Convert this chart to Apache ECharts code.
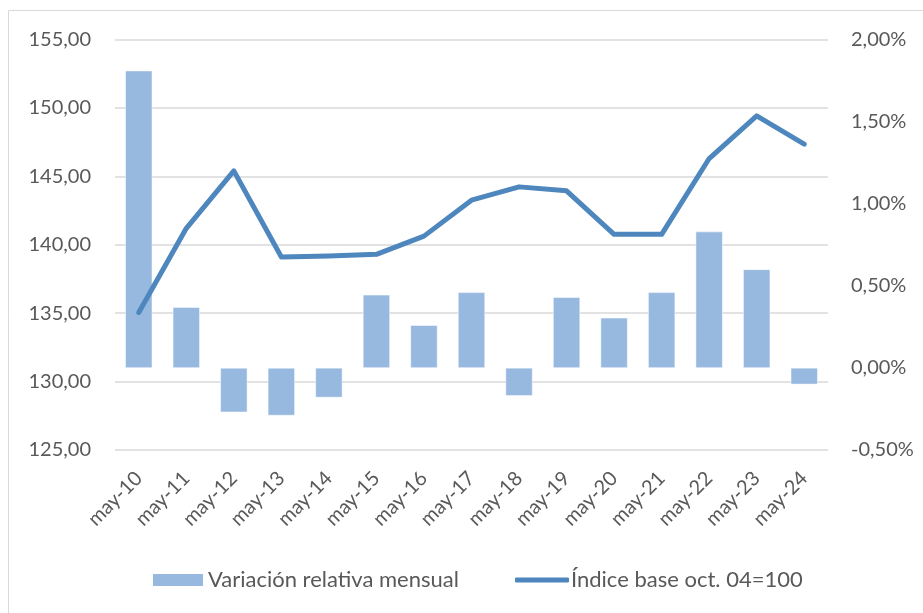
<!DOCTYPE html>
<html>
<head>
<meta charset="utf-8">
<script src="https://cdn.jsdelivr.net/npm/echarts@6/dist/echarts.min.js"></script>
<style>
html,body{margin:0;padding:0;background:#fff;}
#c{width:923px;height:613px;}
</style>
</head>
<body>
<div id="c"></div>
<script>
const categories = ['may-10','may-11','may-12','may-13','may-14','may-15','may-16','may-17','may-18','may-19','may-20','may-21','may-22','may-23','may-24'];
const variacionMensual = [1.81, 0.37, -0.27, -0.29, -0.18, 0.445, 0.26, 0.46, -0.17, 0.43, 0.305, 0.46, 0.83, 0.60, -0.10];
const indiceBase = [135.05, 141.2, 145.4, 139.1, 139.17, 139.3, 140.63, 143.26, 144.23, 143.94, 140.76, 140.76, 146.3, 149.42, 147.35];
const leftTicks = {min:125, max:155, interval:5};
const rightTicks = {min:-0.5, max:2.0, interval:0.5};
const seriesNames = ['Variación relativa mensual', 'Índice base oct. 04=100'];

const FONT = 'Lato';
const TXT = '#595959';
const legendText = {fontFamily:FONT,fontSize:22,color:TXT};
const chart = echarts.init(document.getElementById('c'), null, {renderer:'canvas'});
chart.setOption({
  animation:false,
  backgroundColor:'#ffffff',
  textStyle:{fontFamily:FONT},
  graphic:[{
    type:'rect', shape:{x:8.5,y:10.5,width:930,height:620},
    style:{fill:'none',stroke:'#d9d9d9',lineWidth:1}, silent:true, z:-10
  }],
  grid:{left:115,right:95,top:39.5,bottom:163,containLabel:false},
  legend:[{
    left:146, top:564, itemGap:0, itemWidth:52, itemHeight:14,
    textStyle:Object.assign({padding:[0,0,0,-1]},legendText),
    data:[{name:seriesNames[0],icon:'rect'}]
  },{
    left:510, top:564, itemGap:0, itemWidth:54, itemHeight:5,
    textStyle:Object.assign({padding:[0,0,0,-3]},legendText),
    data:[{name:seriesNames[1],icon:'roundRect',itemStyle:{color:'#4e86be'}}]
  }],
  xAxis:{
    type:'category', data:categories,
    axisLine:{show:false}, axisTick:{show:false},
    axisLabel:{rotate:45, margin:25, color:TXT, fontFamily:FONT, fontSize:20, interval:0}
  },
  yAxis:[{
    type:'value', min:leftTicks.min, max:leftTicks.max, interval:leftTicks.interval,
    axisLine:{show:false}, axisTick:{show:false},
    splitLine:{lineStyle:{color:'#d9d9d9',width:1.5}},
    axisLabel:{color:TXT,fontFamily:FONT,fontSize:20,margin:24,
      formatter:v=>v.toFixed(2).replace('.',',')}
  },{
    type:'value', min:rightTicks.min, max:rightTicks.max, interval:rightTicks.interval,
    position:'right',
    axisLine:{show:false}, axisTick:{show:false}, splitLine:{show:false},
    axisLabel:{color:TXT,fontFamily:FONT,fontSize:20,margin:23,
      formatter:v=>v.toFixed(2).replace('.',',')+'%'}
  }],
  series:[{
    name:seriesNames[0], type:'bar', yAxisIndex:1, data:variacionMensual,
    barWidth:27,
    itemStyle:{color:'#97b9e0',borderColor:'#ffffff',borderWidth:0.5}
  },{
    name:seriesNames[1], type:'line', yAxisIndex:0, data:indiceBase,
    symbol:'none', showSymbol:false,
    lineStyle:{color:'#4e86be',width:5,join:'round',cap:'round'},
    itemStyle:{color:'#4e86be'}, z:5
  }]
});
</script>
</body>
</html>
